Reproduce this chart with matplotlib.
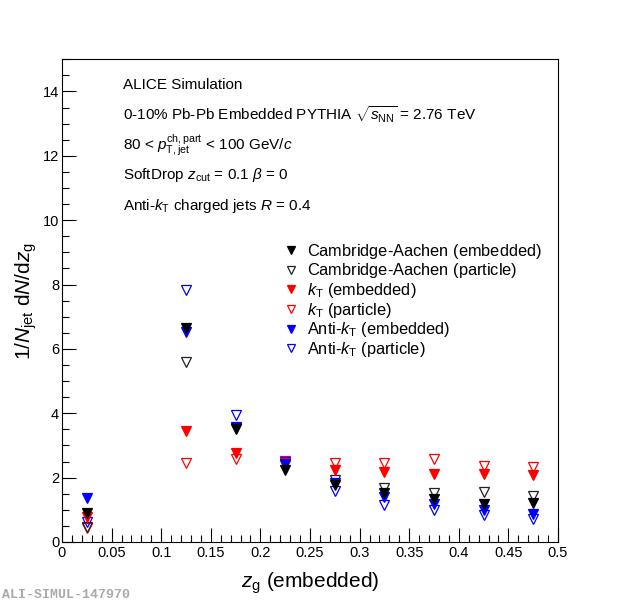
import matplotlib
matplotlib.use("Agg")
import matplotlib.pyplot as plt
from matplotlib.ticker import MultipleLocator

plt.rcParams['font.family'] = ['Liberation Sans', 'DejaVu Sans']
plt.rcParams['mathtext.fontset'] = 'custom'
plt.rcParams['mathtext.rm'] = 'Liberation Sans'
plt.rcParams['mathtext.it'] = 'Liberation Sans:italic'
plt.rcParams['mathtext.bf'] = 'Liberation Sans:bold'

# bin centres in z_g
zg = [0.025, 0.125, 0.175, 0.225, 0.275, 0.325, 0.375, 0.425, 0.475]

ca_emb = [0.90, 6.65, 3.50, 2.25, 1.78, 1.53, 1.32, 1.17, 1.20]
ca_part = [0.48, 5.58, 3.55, 2.40, 1.94, 1.68, 1.53, 1.56, 1.42]
kt_emb = [0.77, 3.45, 2.78, 2.45, 2.25, 2.18, 2.11, 2.10, 2.08]
kt_part = [0.43, 2.45, 2.57, 2.52, 2.46, 2.45, 2.57, 2.36, 2.33]
akt_emb = [1.38, 6.51, 3.58, 2.42, 1.84, 1.40, 1.17, 0.99, 0.87]
akt_part = [0.63, 7.84, 3.95, 2.47, 1.59, 1.14, 0.99, 0.85, 0.72]

# the trailing $\,$ makes every label mathtext so legend rows get equal heights
labels = [r'Cambridge-Aachen (embedded)$\,$', r'Cambridge-Aachen (particle)$\,$',
          r'$k_{\mathrm{T}}$ (embedded)', r'$k_{\mathrm{T}}$ (particle)',
          r'Anti-$k_{\mathrm{T}}$ (embedded)', r'Anti-$k_{\mathrm{T}}$ (particle)']

fig = plt.figure(figsize=(6.2, 6.03), dpi=100)
ax = fig.add_axes([0.1, 0.1012, 0.8, 0.8005])

series = [
    (ca_emb, 'black', True, 6),
    (ca_part, '#222222', False, 3),
    (kt_emb, 'red', True, 4),
    (kt_part, 'red', False, 1),
    (akt_emb, 'blue', True, 5),
    (akt_part, 'blue', False, 2),
]
for (vals, col, filled, z), lab in zip(series, labels):
    ax.plot(zg, vals, linestyle='none', marker='v', markersize=7.5,
            markerfacecolor=col if filled else 'none', markeredgecolor=col,
            markeredgewidth=0.9, label=lab, zorder=z)

ax.set_xlim(0, 0.5)
ax.set_ylim(0, 15)
ax.xaxis.set_minor_locator(MultipleLocator(0.01))
ax.yaxis.set_major_locator(MultipleLocator(2))
ax.yaxis.set_minor_locator(MultipleLocator(0.5))
ax.set_xticks([0, 0.05, 0.1, 0.15, 0.2, 0.25, 0.3, 0.35, 0.4, 0.45, 0.5])
ax.set_xticklabels(['0', '0.05', '0.1', '0.15', '0.2', '0.25', '0.3', '0.35', '0.4', '0.45', '0.5'])
ax.tick_params(which='both', direction='in', top=False, right=False, labelsize=10.5)
ax.tick_params(which='major', length=10, width=0.8)
ax.tick_params(which='minor', length=5, width=0.8)
ax.tick_params(axis='x', pad=3)
ax.tick_params(axis='y', pad=2)
for s in ax.spines.values():
    s.set_linewidth(0.8)

ax.set_xlabel(r'$z_{\mathrm{g}}$ (embedded)', fontsize=15)
ax.xaxis.set_label_coords(0.5, -0.06)
ax.set_ylabel(r'$1/N_{\mathrm{jet}}$ d$N$/d$z_{\mathrm{g}}$', fontsize=15)
ax.yaxis.set_label_coords(-0.046, 0.5)

txt = ['ALICE Simulation',
       r'0-10% Pb-Pb Embedded PYTHIA $\sqrt{s_{\mathrm{NN}}}$ = 2.76 TeV',
       r'80 < $p_{\mathrm{T,jet}}^{\mathrm{ch,part}}$ < 100 GeV/$c$',
       r'SoftDrop $z_{\mathrm{cut}}$ = 0.1 $\beta$ = 0',
       r'Anti-$k_{\mathrm{T}}$ charged jets $R$ = 0.4']
for i, t in enumerate(txt):
    ax.text(0.123, 0.947 - i * 0.0625, t, transform=ax.transAxes,
            fontsize=11, va='center', ha='left')

ax.legend(loc='upper left', bbox_to_anchor=(0.446, 0.622), frameon=False,
          fontsize=11.8, markerscale=0.75, handlelength=0.9, handletextpad=0.55,
          labelspacing=0.04, borderpad=0, borderaxespad=0)

fig.text(0.004, 0.013, 'ALI-SIMUL-147970', fontsize=9.5, color='#aaaaaa',
         family='Liberation Mono', weight='bold', ha='left', va='center')

fig.savefig('out.png', dpi=100)
